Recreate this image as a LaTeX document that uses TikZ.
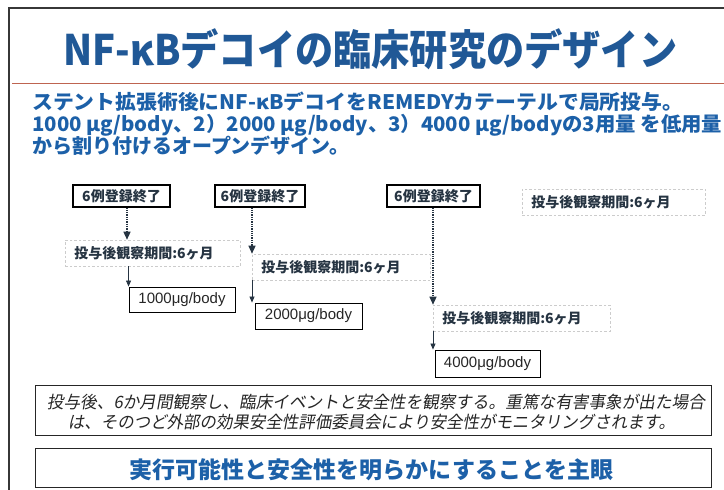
\documentclass[tikz,border=0pt]{standalone}
\usepackage{fontspec}
\usepackage{graphicx}
\usetikzlibrary{arrows.meta}
\setmainfont{Noto Sans CJK JP}
\newfontfamily\jp{Noto Sans CJK JP}
\newfontfamily\jpit[FakeSlant=0.18]{Noto Sans CJK JP}
\newfontfamily\arialish{Liberation Sans}
\definecolor{titleblue}{RGB}{32,88,150}
\definecolor{subblue}{RGB}{28,96,168}
\definecolor{darktext}{RGB}{38,52,66}
\definecolor{redline}{RGB}{190,100,80}
\definecolor{framegray}{RGB}{55,55,55}
\tikzset{
  regbox/.style={draw=black, line width=1.1pt, minimum height=22pt, inner sep=0pt,
    font=\fontsize{14}{14}\selectfont\bfseries, text=darktext},
  obsbox/.style={draw=gray!40, line width=0.6pt, dash pattern=on 2.5pt off 2pt,
    minimum height=26pt, inner ysep=0pt, inner xsep=9pt, align=left,
    font=\fontsize{14}{14}\selectfont\bfseries, text=darktext},
  dosebox/.style={draw=black, line width=0.9pt, minimum height=26pt, inner sep=0pt,
    font=\fontsize{15}{15}\selectfont\arialish, text=black!85},
  dotarr/.style={draw=darktext, line width=1.3pt, densely dotted,
    -{Triangle[length=8pt,width=7pt]}},
  solarr/.style={draw=darktext, line width=0.8pt, -{Triangle[length=6pt,width=5pt]}},
  plainbox/.style={draw=black!85, line width=1pt, inner sep=0pt},
}
\begin{document}
\begin{tikzpicture}[x=1pt,y=-1pt]
\useasboundingbox (0,0) rectangle (724,490);
\fill[white] (0,0) rectangle (724,490);
% frame
\draw[framegray, line width=1.3pt] (9,490) -- (9,8) -- (724,8);
% title
\node[anchor=base west, inner sep=0pt, text=titleblue] (title) at (63,65)
  {\resizebox{614pt}{\height}{\fontsize{42}{42}\selectfont\bfseries NF-κBデコイの臨床研究のデザイン}};
\draw[redline, line width=1pt] (12,83) -- (724,83);
% subtitle
\node[anchor=base west, inner sep=0pt, text=subblue] (sub1) at (32,109)
  {\resizebox{651pt}{\height}{\fontsize{20}{20}\selectfont\bfseries ステント拡張術後にNF-κBデコイをREMEDYカテーテルで局所投与。}};
\node[anchor=base west, inner sep=0pt, text=subblue] (sub2) at (32,131)
  {\resizebox{690pt}{\height}{\fontsize{20}{20}\selectfont\bfseries 1000 μg/body、2）2000 μg/body、3）4000 μg/bodyの3用量 を低用量}};
\node[anchor=base west, inner sep=0pt, text=subblue] (sub3) at (32,153)
  {\fontsize{20}{20}\selectfont\bfseries から割り付けるオープンデザイン。};
% registration boxes
\node[regbox, minimum width=97pt] (regA) at (121.5,196) {6例登録終了};
\node[regbox, minimum width=90pt] (regB) at (260,196) {6例登録終了};
\node[regbox, minimum width=93pt] (regC) at (433.5,196) {6例登録終了};
% observation boxes
\node[obsbox, text width=157pt, anchor=west] (obs1) at (65,253) {投与後観察期間:6ヶ月};
\node[obsbox, text width=160pt, anchor=west] (obs2) at (252,267) {投与後観察期間:6ヶ月};
\node[obsbox, text width=159pt, anchor=west] (obs3) at (433,318) {投与後観察期間:6ヶ月};
\node[obsbox, text width=165pt, anchor=west] (obs4) at (522,202) {投与後観察期間:6ヶ月};
% dose boxes
\node[dosebox, minimum width=106pt, minimum height=25pt] (dose1) at (182,299.5) {1000μg/body};
\node[dosebox, minimum width=107pt] (dose2) at (308.5,316) {2000μg/body};
\node[dosebox, minimum width=105pt, minimum height=27pt] (dose3) at (487.5,363.5) {4000μg/body};
% arrows
\draw[dotarr] ([xshift=5.5pt]regA.south) -- ([xshift=5.5pt]regA.south |- obs1.north);
\draw[solarr] (obs1.south -| dose1.north west) -- (dose1.north west);
\draw[dotarr] (regB.south -| obs2.north west) -- (obs2.north west);
\draw[solarr] (obs2.south west) -- (obs2.south west |- dose2.north);
\draw[dotarr] (regC.south -| obs3.north west) -- (obs3.north west);
\draw[solarr] (obs3.south west) -- (obs3.south west |- dose3.north);
% bottom boxes
\node[plainbox, minimum width=676pt, minimum height=50pt] (noteD) at (373,410) {};
\node[anchor=base, inner sep=0pt, text=black!85] (noteD1) at (376,408.5)
  {\resizebox{658pt}{\height}{\fontsize{17}{17}\selectfont\jpit 投与後、6か月間観察し、臨床イベントと安全性を観察する。重篤な有害事象が出た場合}};
\node[anchor=base, inner sep=0pt, text=black!85] (noteD2) at (371.5,428.5)
  {\resizebox{607pt}{\height}{\fontsize{17}{17}\selectfont\jpit は、そのつど外部の効果安全性評価委員会により安全性がモニタリングされます。}};
\node[plainbox, minimum width=676pt, minimum height=39pt] (aimE) at (373,467.5) {};
\node[anchor=base, inner sep=0pt, text=subblue] (aimE1) at (371.5,478.5)
  {\fontsize{23}{23}\selectfont\bfseries 実行可能性と安全性を明らかにすることを主眼};
\end{tikzpicture}
\end{document}
